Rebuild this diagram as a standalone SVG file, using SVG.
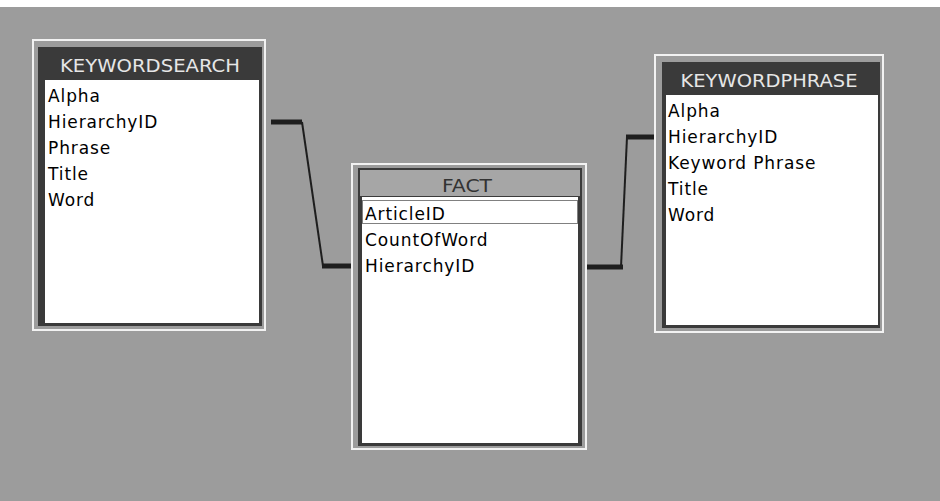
<svg xmlns="http://www.w3.org/2000/svg" width="940" height="501" viewBox="0 0 940 501">
  <style>
    .frame { fill: none; stroke: #f2f2f2; stroke-width: 2; }
    .inner { fill: #3a3a3a; }
    .panel { fill: #ffffff; }
    .titlebar-grey { fill: #a6a6a6; }
    .title { font-family: "DejaVu Sans", sans-serif; font-size: 17px; fill: #e6e6e6; text-anchor: middle; }
    .title-dark { font-family: "DejaVu Sans", sans-serif; font-size: 17px; fill: #333333; text-anchor: middle; }
    .field { font-family: "DejaVu Sans", sans-serif; font-size: 17px; fill: #000000; letter-spacing: 0.9px; }
    .thick { stroke: #1e1e1e; stroke-width: 5; fill: none; }
    .thin { stroke: #1e1e1e; stroke-width: 2; fill: none; }
    .focus { fill: none; stroke: #000000; stroke-width: 1; stroke-dasharray: 1 1; }
  </style>
  <rect x="0" y="0" width="940" height="501" fill="#ffffff"/>
  <rect x="0" y="7" width="940" height="494" fill="#9c9c9c"/>

  <g id="connectors">
    <polyline class="thick" points="271,122 302,122"/>
    <polyline class="thin" points="302,122 323,266"/>
    <polyline class="thick" points="322,266 352,266"/>
    <polyline class="thick" points="587,267 623,267"/>
    <polyline class="thin" points="621,267 627,137"/>
    <polyline class="thick" points="626,137 655,137"/>
  </g>

  <g id="keywordsearch">
    <rect class="frame" x="33" y="40" width="232" height="290"/>
    <rect class="inner" x="38" y="47" width="224" height="279"/>
    <rect class="panel" x="45" y="80" width="214" height="243"/>
    <text class="title" x="150" y="72" textLength="180" lengthAdjust="spacingAndGlyphs">KEYWORDSEARCH</text>
    <text class="field" x="48" y="102">Alpha</text>
    <text class="field" x="48" y="128">HierarchyID</text>
    <text class="field" x="48" y="154">Phrase</text>
    <text class="field" x="48" y="180">Title</text>
    <text class="field" x="48" y="206">Word</text>
  </g>

  <g id="fact">
    <rect class="frame" x="352" y="164" width="234" height="285"/>
    <rect class="inner" x="358" y="168" width="224" height="278"/>
    <rect class="titlebar-grey" x="360" y="170" width="220" height="26"/>
    <rect class="panel" x="362" y="197" width="216" height="246"/>
    <text class="title-dark" x="467" y="192" textLength="50" lengthAdjust="spacingAndGlyphs">FACT</text>
    <rect class="focus" x="362.5" y="200.5" width="215" height="23"/>
    <text class="field" x="365" y="220">ArticleID</text>
    <text class="field" x="365" y="246">CountOfWord</text>
    <text class="field" x="365" y="272">HierarchyID</text>
  </g>

  <g id="keywordphrase">
    <rect class="frame" x="655" y="55" width="228" height="277"/>
    <rect class="inner" x="662" y="62" width="218" height="266"/>
    <rect class="panel" x="666" y="95" width="212" height="230"/>
    <text class="title" x="769" y="87" textLength="177" lengthAdjust="spacingAndGlyphs">KEYWORDPHRASE</text>
    <text class="field" x="668" y="117">Alpha</text>
    <text class="field" x="668" y="143">HierarchyID</text>
    <text class="field" x="668" y="169">Keyword Phrase</text>
    <text class="field" x="668" y="195">Title</text>
    <text class="field" x="668" y="221">Word</text>
  </g>
</svg>
